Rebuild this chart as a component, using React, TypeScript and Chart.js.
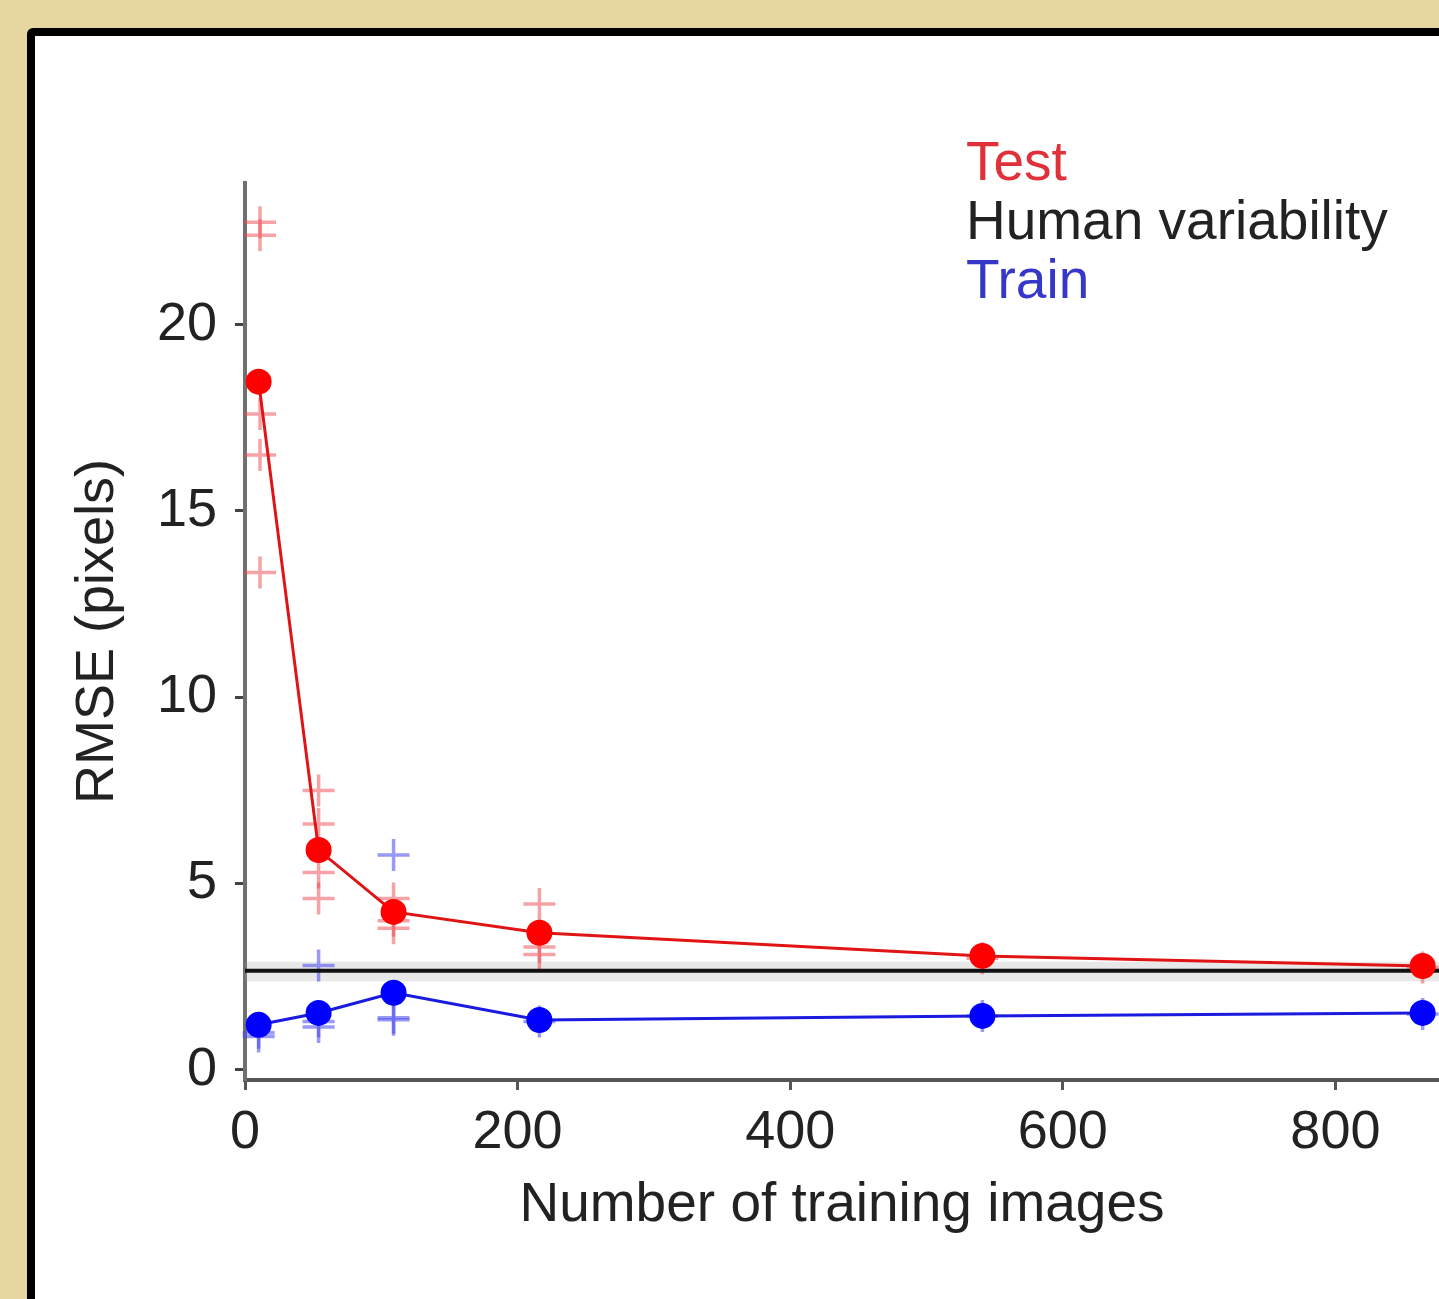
import React, { useEffect, useRef } from 'react';
import { Chart, registerables } from 'chart.js';

Chart.register(...registerables);

// ---- data ----
const trainingSizes = [10, 54, 109, 216, 541, 864];
const testRmse = [18.47, 5.9, 4.24, 3.68, 3.06, 2.79];
const trainRmse = [1.21, 1.53, 2.07, 1.34, 1.45, 1.53];

const humanVariability = 2.66;
const humanBandLow = 2.38;
const humanBandHigh = 2.9;

const testTrialX = [11, 11, 11, 11, 11, 54, 54, 54, 54, 109, 109, 109, 216, 216, 216, 541, 864];
const testTrialY = [22.75, 22.4, 17.6, 16.5, 13.35, 7.5, 6.6, 5.3, 4.6, 4.6, 4.0, 3.8, 4.45, 3.3, 3.1, 3.0, 2.75];

const trainTrialX = [10, 10, 54, 54, 54, 109, 109, 109, 216, 541, 864];
const trainTrialY = [1.0, 0.9, 2.8, 1.3, 1.15, 5.77, 1.4, 1.35, 1.3, 1.45, 1.5];

const xTicks = [0, 200, 400, 600, 800];
const yTicks = [0, 5, 10, 15, 20];
const xMin = 0;
const xMax = 876;
const yMin = -0.27;
const yMax = 23.8;

const legendLabels = ['Test', 'Human variability', 'Train'];

const FONT = "'Liberation Sans', Arial, Helvetica, sans-serif";

export default function App() {
  const canvasRef = useRef<HTMLCanvasElement | null>(null);

  useEffect(() => {
    const canvas = canvasRef.current;
    if (!canvas) return;

    const pts = (xs: number[], ys: number[]) => xs.map((x, i) => ({ x, y: ys[i] }));

    const chart = new Chart(canvas, {
      type: 'scatter',
      data: {
        datasets: [
          {
            label: 'band-low',
            data: [{ x: xMin, y: humanBandLow }, { x: xMax, y: humanBandLow }],
            showLine: true,
            borderWidth: 0,
            borderColor: 'rgba(0,0,0,0)',
            pointRadius: 0,
            fill: false,
            order: 10,
          },
          {
            label: 'band-high',
            data: [{ x: xMin, y: humanBandHigh }, { x: xMax, y: humanBandHigh }],
            showLine: true,
            borderWidth: 0,
            borderColor: 'rgba(0,0,0,0)',
            backgroundColor: 'rgba(150,150,150,0.22)',
            pointRadius: 0,
            fill: '-1',
            order: 9,
          },
          {
            label: 'Test trials',
            data: pts(testTrialX, testTrialY),
            pointStyle: 'cross',
            pointRadius: 16,
            pointBorderWidth: 3.5,
            pointBorderColor: 'rgba(240,70,80,0.5)',
            showLine: false,
            clip: false,
            order: 8,
          },
          {
            label: 'Train trials',
            data: pts(trainTrialX, trainTrialY),
            pointStyle: 'cross',
            pointRadius: 16,
            pointBorderWidth: 3.5,
            pointBorderColor: 'rgba(70,70,240,0.55)',
            showLine: false,
            clip: false,
            order: 7,
          },
          {
            label: 'Human variability',
            data: [{ x: xMin, y: humanVariability }, { x: xMax, y: humanVariability }],
            showLine: true,
            borderColor: '#111111',
            borderWidth: 4,
            pointRadius: 0,
            order: 6,
          },
          {
            label: 'Test',
            data: pts(trainingSizes, testRmse),
            showLine: true,
            borderColor: '#e01414',
            borderWidth: 3,
            pointStyle: 'circle',
            pointRadius: 13,
            pointBorderWidth: 0,
            pointBackgroundColor: '#ff0000',
            pointBorderColor: '#ff0000',
            tension: 0,
            clip: false,
            order: 2,
          },
          {
            label: 'Train',
            data: pts(trainingSizes, trainRmse),
            showLine: true,
            borderColor: '#1a1ae0',
            borderWidth: 3,
            pointStyle: 'circle',
            pointRadius: 13,
            pointBorderWidth: 0,
            pointBackgroundColor: '#0000ff',
            pointBorderColor: '#0000ff',
            tension: 0,
            clip: false,
            order: 1,
          },
        ],
      },
      options: {
        responsive: false,
        animation: false,
        layout: { autoPadding: false, padding: { top: 146, right: 0, bottom: 0, left: 0 } },
        plugins: {
          legend: { display: false },
          tooltip: { enabled: false },
          title: { display: false },
        },
        scales: {
          x: {
            type: 'linear',
            min: xMin,
            max: xMax,
            afterBuildTicks: (scale: any) => {
              scale.ticks = xTicks.map((v) => ({ value: v }));
            },
            afterFit: (scale: any) => {
              scale.height = 219;
              scale.paddingLeft = 0;
              scale.paddingRight = 0;
            },
            border: { display: true, color: '#555555', width: 4 },
            grid: {
              display: true,
              drawOnChartArea: false,
              drawTicks: true,
              tickLength: 10,
              tickWidth: 3,
              tickColor: '#555555',
            },
            ticks: {
              color: '#222222',
              font: { family: FONT, size: 54 },
              padding: 11,
              maxRotation: 0,
              autoSkip: false,
            },
            title: {
              display: true,
              text: 'Number of training images',
              color: '#222222',
              font: { family: FONT, size: 55 },
              padding: { top: 0, bottom: 60 },
            },
          },
          y: {
            type: 'linear',
            min: yMin,
            max: yMax,
            afterBuildTicks: (scale: any) => {
              scale.ticks = yTicks.map((v) => ({ value: v }));
            },
            afterFit: (scale: any) => {
              scale.width = 210;
              scale.paddingTop = 0;
              scale.paddingBottom = 0;
            },
            border: { display: true, color: '#707070', width: 4 },
            grid: {
              display: true,
              drawOnChartArea: false,
              drawTicks: true,
              tickLength: 10,
              tickWidth: 3,
              tickColor: '#444444',
            },
            ticks: {
              color: '#222222',
              font: { family: FONT, size: 54 },
              padding: 18,
              autoSkip: false,
            },
            title: {
              display: true,
              text: 'RMSE (pixels)',
              color: '#222222',
              font: { family: FONT, size: 54 },
              padding: { top: 31, bottom: 0 },
            },
          },
        },
      },
    });

    return () => chart.destroy();
  }, []);

  const legendColors = ['#e0303a', '#222222', '#3636c8'];

  return (
    <div
      style={{
        position: 'absolute',
        left: 0,
        top: 0,
        width: 1439,
        height: 1299,
        overflow: 'hidden',
        background: '#e6d6a0',
      }}
    >
      <div
        style={{
          position: 'absolute',
          left: 27,
          top: 28,
          width: 1500,
          height: 1400,
          background: '#ffffff',
          border: '8px solid #000000',
          borderRadius: 6,
          boxSizing: 'border-box',
        }}
      />
      <canvas
        ref={canvasRef}
        width={1404}
        height={1262}
        style={{ position: 'absolute', left: 35, top: 37, width: 1404, height: 1262 }}
      />
      <div
        style={{
          position: 'absolute',
          left: 966,
          top: 132,
          fontFamily: FONT,
          fontSize: 55,
          lineHeight: '59px',
          whiteSpace: 'nowrap',
        }}
      >
        {legendLabels.map((t, i) => (
          <div key={t} style={{ color: legendColors[i] }}>
            {t}
          </div>
        ))}
      </div>
    </div>
  );
}
